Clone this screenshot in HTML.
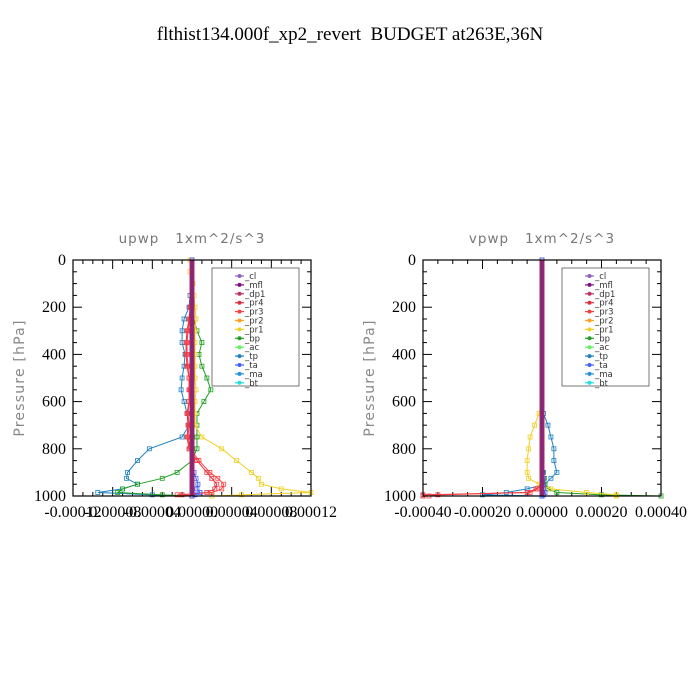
<!DOCTYPE html>
<html><head><meta charset="utf-8">
<style>
body{margin:0;background:#fff;}
svg{display:block;}
text{white-space:pre;}
</style></head>
<body>
<svg id="chart" width="700" height="700" viewBox="0 0 700 700" xmlns="http://www.w3.org/2000/svg">
<rect width="700" height="700" fill="#fff"/>
<text x="350" y="40" text-anchor="middle" font-family="Liberation Serif, serif" font-size="19" fill="#000" xml:space="preserve">flthist134.000f_xp2_revert  BUDGET at263E,36N</text>
</svg>
<script>
// pressure levels (hPa)
const levels = [0,50,100,150,200,250,300,350,400,450,500,550,600,650,700,750,800,850,900,925,950,970,985,995,1000];
// series names
const seriesNames = ["_cl","_mfl","_dp1","_pr4","_pr3","_pr2","_pr1","_bp","_ac","_tp","_ta","_ma","_bt"];
const seriesColors = ["#9060c0","#801080","#c03060","#e03040","#ff4040","#ffa020","#f0d020","#20a020","#60f060","#2080c0","#4060ff","#2090e0","#20e0e0"];
// upwp values (units 1e-5)
const upTp  = [0,0,0,-0.2,-0.3,-0.8,-1,-1,-0.7,-0.8,-1,-1.1,-0.8,-0.5,-0.3,-1,-4.3,-5.5,-6.5,-6.6,-5.5,-7,-9.5,-4,0];
const upBp  = [0,0,0,0,0,0.2,0.5,1,0.7,1,1.5,1.9,1.2,0.5,0.5,0.5,0.5,0,-1.5,-3,-5.5,-7,-7.5,-3,0];
const upPr1 = [-0.2,-0.2,0.1,0.2,0.3,0.4,0.3,0.3,0.3,0.3,0.3,0.4,0.3,0.3,0.3,1,3,4.5,6,6.7,7,9,12,5,2];
const upPr4 = [0,0,0,0,-0.2,-0.3,-0.5,-0.6,-0.6,-0.5,-0.3,-0.3,-0.3,-0.5,-0.4,-0.5,-0.3,0.5,1.5,2,2.5,2.3,1.5,-1,0];
const upPr3 = [0,0,0,0,-0.1,-0.2,-0.4,-0.5,-0.5,-0.4,-0.3,-0.2,-0.3,-0.4,-0.3,-0.4,-0.2,0.7,1.8,2.6,3.2,3,2,-1.5,0];
const upTa  = [0,0,0,0,0,0,0,0,0,0,0,0,0,0,0,0,0,0,0.2,0.4,0.6,0.5,0.8,0.3,0];
// vpwp values (units 1e-5)
const vpTp  = [0,0,0,0,0,0,0,0,0,0,0,0,0,0.5,2,3,4,4,5,3,1,-5,-12,-20,0];
const vpBp  = [0,0,0,0,0,0,0,0,0,0,0,0,0,0,0,0,0,0,0.5,0.8,1,2,5,20,40];
const vpPr1 = [0,0,0,0,0,0,0,0,0,0,0,0,0,-1,-2.5,-4,-4.5,-5,-5,-4.5,-1,3,15,25,25];
const vpPr4 = [0,0,0,0,0,0,0,0,0,0,0,0,0,0,0,0,0,0,0,0,0,-2,-5,-40,-40];
const vpPr3 = [0,0,0,0,0,0,0,0,0,0,0,0,0,0,0,0,0,0,0,0,0,-1.5,-4,-35,-38];
const vpTa  = [0,0,0,0,0,0,0,0,0,0,0,0,0,0,0,0,0,0,0.3,0.5,0.5,0.5,1,0.5,0];
const upTicks = ["-0.00012","-0.00008","-0.00004","0.00000","0.00004","0.00008","0.00012"];
const vpTicks = ["-0.00040","-0.00020","0.00000","0.00020","0.00040"];
const yTicks = [0,200,400,600,800,1000];

const NS="http://www.w3.org/2000/svg";
const svg=document.getElementById("chart");
function mk(tag,attrs,parent){const e=document.createElementNS(NS,tag);for(const k in attrs)e.setAttribute(k,attrs[k]);(parent||svg).appendChild(e);return e;}

function panel(id,x0,title,xmax,ticks,series){
  const x1=x0+238, y0=260, y1=496;
  const g=mk("g",{});
  
  
  const sx=v=>x0+(v+xmax)/(2*xmax)*(x1-x0);
  const sy=p=>y0+p/1000*(y1-y0);
  const t=mk("text",{x:(x0+x1)/2,y:243,"text-anchor":"middle","font-family":"DejaVu Sans, sans-serif","font-size":"13.5","letter-spacing":"1","fill":"#777"},g);
  t.textContent=title;
  
  
  const yl=mk("text",{x:0,y:0,transform:`translate(${x0-49},378) rotate(-90)`,"text-anchor":"middle","font-family":"DejaVu Sans, sans-serif","font-size":"14","letter-spacing":"1.2","fill":"#888"},g);
  yl.textContent="Pressure [hPa]";
  
  
  for(let p=0;p<=1000;p+=50){
    const major=p%200===0, L=major?9:4;
    mk("line",{x1:x0,x2:x0+L,y1:sy(p),y2:sy(p),stroke:"#000"},g);
    mk("line",{x1:x1,x2:x1-L,y1:sy(p),y2:sy(p),stroke:"#000"},g);
  }
  yTicks.forEach(p=>{
    const tt=mk("text",{x:x0-7,y:sy(p)+5,"text-anchor":"end","font-family":"Liberation Serif, serif","font-size":"16"},g);
    tt.textContent=p;
    
    
  });
  const n=ticks.length;
  for(let i=0;i<n;i++){
    const v=-xmax+2*xmax*i/(n-1), x=sx(v);
    mk("line",{x1:x,x2:x,y1:y1,y2:y1-9,stroke:"#000"},g);
    mk("line",{x1:x,x2:x,y1:y0,y2:y0+9,stroke:"#000"},g);
    if(i<n-1){for(let k=1;k<4;k++){const xm=x+k*(sx(v+2*xmax/(n-1))-x)/4;
      mk("line",{x1:xm,x2:xm,y1:y1,y2:y1-4,stroke:"#000"},g);
      mk("line",{x1:xm,x2:xm,y1:y0,y2:y0+4,stroke:"#000"},g);}}
    const tt=mk("text",{x:x,y:y1+21,"text-anchor":"middle","font-family":"Liberation Serif, serif","font-size":"16"},g);
    tt.textContent=ticks[i];
    
    
  }
  series.forEach(s=>{
    const pts=levels.map((p,i)=>sx(s.vals[i]*1e-5)+","+sy(p)).join(" ");
    const pl=mk("polyline",{points:pts,fill:"none",stroke:s.color,"stroke-width":1},g);
    
    
    levels.forEach((p,i)=>{
      const c=mk("rect",{x:sx(s.vals[i]*1e-5)-2,y:sy(p)-2,width:4,height:4,fill:"none",stroke:s.color,"stroke-width":0.8},g);
      
      
    });
  });
  const zeros=levels.map(()=>0);
  const cl=mk("polyline",{points:levels.map((p,i)=>sx(zeros[i])+","+sy(p)).join(" "),fill:"none",stroke:"#c02050","stroke-width":5},g);
  
  
  const cl2=mk("polyline",{points:levels.map((p,i)=>sx(zeros[i])+","+sy(p)).join(" "),fill:"none",stroke:"#7a2a80","stroke-width":3},g);
  
  
  const fr=mk("rect",{x:x0,y:y0,width:x1-x0,height:y1-y0,fill:"none",stroke:"#000","stroke-width":1.2},g);
  
  
  const lx=x0+139, ly=268;
  const lg=mk("g",{},g);
  
  
  mk("rect",{x:lx,y:ly,width:87,height:118,fill:"#fff",stroke:"#555","stroke-width":0.8},lg);
  seriesNames.forEach((nm,i)=>{
    const yy=ly+8+i*8.9;
    const e=mk("g",{},lg);
    
    
    mk("line",{x1:lx+23,x2:lx+32,y1:yy,y2:yy,stroke:seriesColors[i],"stroke-width":1.2},e);
    mk("circle",{cx:lx+27.5,cy:yy,r:2,fill:seriesColors[i]},e);
    const tt=mk("text",{x:lx+33,y:yy+3,"font-family":"DejaVu Sans, sans-serif","font-size":"8.5",fill:"#333"},e);
    tt.textContent=nm;
  });
}
panel("upwp",73,"upwp   1xm^2/s^3",0.00012,upTicks,[
  {name:"-tp",vals:upTp,color:"#2080c0"},
  {name:"-bp",vals:upBp,color:"#20a020"},
  {name:"-pr1",vals:upPr1,color:"#f0d020"},
  {name:"-pr4",vals:upPr4,color:"#e03040"},
  {name:"-pr3",vals:upPr3,color:"#ff4040"},
  {name:"-ta",vals:upTa,color:"#4060ff"}]);
panel("vpwp",423,"vpwp   1xm^2/s^3",0.0004,vpTicks,[
  {name:"-tp",vals:vpTp,color:"#2080c0"},
  {name:"-bp",vals:vpBp,color:"#20a020"},
  {name:"-pr1",vals:vpPr1,color:"#f0d020"},
  {name:"-pr4",vals:vpPr4,color:"#e03040"},
  {name:"-pr3",vals:vpPr3,color:"#ff4040"},
  {name:"-ta",vals:vpTa,color:"#4060ff"}]);
</script>
</body></html>
